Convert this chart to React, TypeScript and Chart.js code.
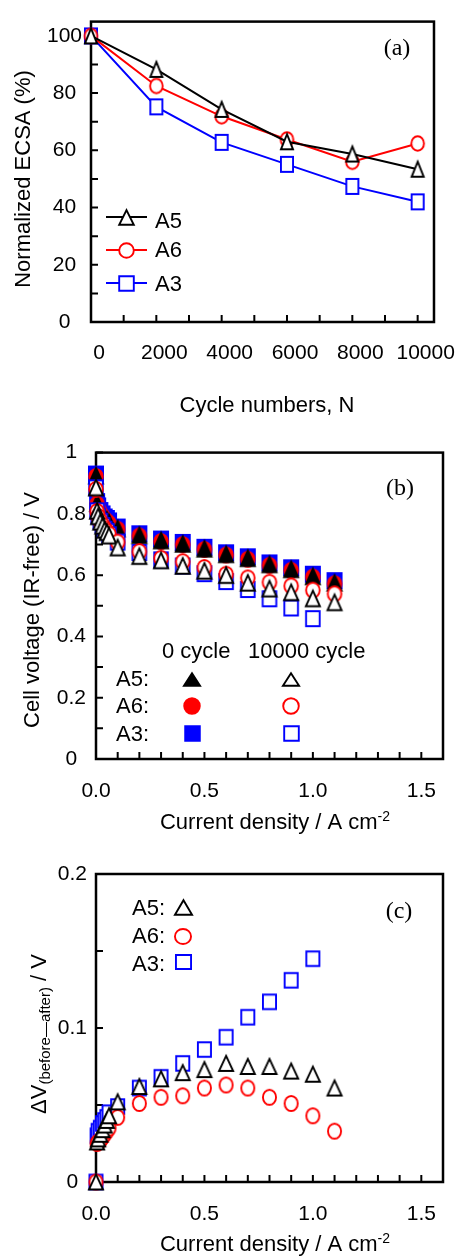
import React, { useEffect, useRef } from 'react';
import { Chart, registerables } from 'chart.js';

Chart.register(...registerables);

const SANS = "'Liberation Sans', Arial, Helvetica, sans-serif";
const SERIF = "'Liberation Serif', 'Times New Roman', serif";

// ---------------- Panel (a): normalized ECSA vs cycle number ----------------
const cycleNumbers = [0, 2000, 4000, 6000, 8000, 10000];
const ecsaA5 = [100, 88.3, 74.3, 63.0, 58.7, 53.4];
const ecsaA6 = [100, 82.5, 71.9, 63.8, 56.0, 62.4];
const ecsaA3 = [100, 75.2, 62.8, 55.1, 47.4, 42.0];
const cycleTickValues = [0, 2000, 4000, 6000, 8000, 10000];
const cycleTickLabels = ['0', '2000', '4000', '6000', '8000', '10000'];
const ecsaTickValues = [0, 20, 40, 60, 80, 100];
const ecsaTickLabels = ['0', '20', '40', '60', '80', '100'];

// ---------------- Panel (b): IR-free cell voltage vs current density ----------------
const currentDensity = [0, 0.005, 0.01, 0.02, 0.03, 0.04, 0.05, 0.06, 0.1, 0.2, 0.3, 0.4, 0.5, 0.6, 0.7, 0.8, 0.9, 1.0, 1.1];
const voltA5Cycle0 = [0.925, 0.835, 0.82, 0.805, 0.795, 0.785, 0.78, 0.772, 0.752, 0.73, 0.713, 0.702, 0.686, 0.668, 0.655, 0.635, 0.619, 0.596, 0.575];
const voltA6Cycle0 = [0.922, 0.832, 0.818, 0.803, 0.792, 0.782, 0.776, 0.769, 0.75, 0.728, 0.71, 0.7, 0.684, 0.666, 0.652, 0.632, 0.616, 0.594, 0.572];
const voltA3Cycle0 = [0.93, 0.84, 0.826, 0.811, 0.8, 0.79, 0.785, 0.777, 0.757, 0.735, 0.718, 0.707, 0.691, 0.673, 0.66, 0.64, 0.624, 0.603, 0.582];
const voltA5Cycle10k = [0.886, 0.81, 0.792, 0.774, 0.761, 0.748, 0.74, 0.729, 0.69, 0.662, 0.648, 0.63, 0.614, 0.6, 0.575, 0.556, 0.544, 0.524, 0.511];
const voltA6Cycle10k = [0.88, 0.808, 0.792, 0.776, 0.763, 0.751, 0.743, 0.734, 0.708, 0.677, 0.655, 0.644, 0.625, 0.603, 0.591, 0.577, 0.565, 0.551, 0.539];
const voltA3Cycle10k = [0.885, 0.81, 0.793, 0.776, 0.762, 0.75, 0.743, 0.732, 0.708, 0.674, 0.65, 0.63, 0.605, 0.579, 0.553, 0.523, 0.493, 0.458];
const currentTickValues = [0, 0.5, 1.0, 1.5];
const currentTickLabels = ['0.0', '0.5', '1.0', '1.5'];
const voltTickValues = [0, 0.2, 0.4, 0.6, 0.8, 1.0];
const voltTickLabels = ['0', '0.2', '0.4', '0.6', '0.8', '1'];

// ---------------- Panel (c): voltage loss vs current density ----------------
const deltaA5 = [0, 0.026, 0.028, 0.031, 0.034, 0.037, 0.04, 0.043, 0.052, 0.062, 0.067, 0.071, 0.073, 0.077, 0.075, 0.075, 0.072, 0.07, 0.061];
const deltaA6 = [0, 0.025, 0.026, 0.027, 0.029, 0.031, 0.033, 0.035, 0.042, 0.051, 0.055, 0.056, 0.061, 0.063, 0.061, 0.055, 0.051, 0.043, 0.033];
const deltaA3 = [0, 0.03, 0.033, 0.035, 0.038, 0.04, 0.042, 0.045, 0.049, 0.061, 0.068, 0.077, 0.086, 0.094, 0.107, 0.117, 0.131, 0.145];
const deltaTickValues = [0, 0.1, 0.2];
const deltaTickLabels = ['0', '0.1', '0.2'];

const BLACK = '#000000';
const RED = '#ff0000';
const BLUE = '#0000ff';
const W = 467;

type Shape = 'triangle' | 'circle' | 'square';

function makeMarker(shape: Shape, w: number, h: number, color: string, filled: boolean, lw = 1.9): HTMLCanvasElement {
  const pad = Math.ceil(lw) + 2;
  const cw = Math.ceil(w + 2 * pad);
  const ch = Math.ceil(h + 2 * pad);
  const c = document.createElement('canvas');
  c.width = cw;
  c.height = ch;
  const ctx = c.getContext('2d') as CanvasRenderingContext2D;
  const cx = cw / 2;
  const cy = ch / 2;
  const iw = w - lw;
  const ih = h - lw;
  ctx.beginPath();
  if (shape === 'triangle') {
    ctx.moveTo(cx, cy - ih / 2);
    ctx.lineTo(cx + iw / 2, cy + ih / 2);
    ctx.lineTo(cx - iw / 2, cy + ih / 2);
    ctx.closePath();
  } else if (shape === 'circle') {
    ctx.ellipse(cx, cy, iw / 2, ih / 2, 0, 0, Math.PI * 2);
  } else {
    ctx.rect(cx - iw / 2, cy - ih / 2, iw, ih);
  }
  ctx.fillStyle = filled ? color : '#ffffff';
  ctx.fill();
  ctx.lineWidth = lw;
  ctx.strokeStyle = color;
  ctx.lineJoin = 'miter';
  ctx.stroke();
  return c;
}

function tickCallback(values: number[], labels: string[]) {
  return (v: any) => {
    const n = Number(v);
    const i = values.findIndex((t) => Math.abs(t - n) < 1e-6);
    return i >= 0 ? labels[i] : '';
  };
}

// positions of the (minor + major) tick marks of an axis
function tickPositions(step: number, last: number) {
  const out: number[] = [];
  const n = Math.round(last / step);
  for (let i = 0; i <= n; i++) out.push(+(i * step).toFixed(6));
  return out;
}

function xy(xs: number[], ys: number[]) {
  return ys.map((y, i) => ({ x: xs[i], y }));
}

interface Area { l: number; r: number; t: number; b: number; }

const frameTicksPlugin = {
  id: 'frameTicks',
  beforeDatasetsDraw(chart: any) {
    const { ctx, chartArea: a } = chart;
    const xs = chart.scales.x;
    const ys = chart.scales.y;
    ctx.save();
    ctx.strokeStyle = BLACK;
    ctx.lineWidth = 2;
    ctx.beginPath();
    xs.ticks.forEach((t: any) => {
      const px = xs.getPixelForValue(t.value);
      ctx.moveTo(px, a.bottom);
      ctx.lineTo(px, a.bottom - 7);
    });
    ys.ticks.forEach((t: any) => {
      const py = ys.getPixelForValue(t.value);
      ctx.moveTo(a.left, py);
      ctx.lineTo(a.left + 7, py);
    });
    ctx.stroke();
    ctx.lineWidth = 2.5;
    ctx.strokeRect(a.left, a.top, a.right - a.left, a.bottom - a.top);
    ctx.restore();
  },
};

function makeOptions(h: number, area: Area, x: any, y: any) {
  return {
    animation: false,
    responsive: false,
    devicePixelRatio: 1,
    events: [],
    clip: false,
    layout: { padding: { top: area.t, right: W - area.r, left: 0, bottom: 0 } },
    plugins: { legend: { display: false }, tooltip: { enabled: false } },
    scales: {
      x: {
        type: 'linear',
        min: x.min,
        max: x.max,
        afterBuildTicks: (s: any) => { s.ticks = x.marks.map((v: number) => ({ value: v })); },
        afterFit: (s: any) => { s.height = h - area.b; },
        grid: { display: false, drawTicks: false },
        border: { display: false },
        title: { display: false },
        ticks: {
          autoSkip: false,
          maxRotation: 0,
          minRotation: 0,
          padding: x.padding,
          labelOffset: x.labelOffset || 0,
          color: BLACK,
          font: { family: SANS, size: 21 },
          callback: tickCallback(x.values, x.labels),
        },
      },
      y: {
        type: 'linear',
        min: y.min,
        max: y.max,
        afterBuildTicks: (s: any) => { s.ticks = y.marks.map((v: number) => ({ value: v })); },
        afterFit: (s: any) => { s.width = area.l; },
        grid: { display: false, drawTicks: false },
        border: { display: false },
        title: { display: false },
        ticks: {
          autoSkip: false,
          crossAlign: 'center',
          padding: y.padding,
          color: BLACK,
          font: { family: SANS, size: 21 },
          callback: tickCallback(y.values, y.labels),
        },
      },
    },
  };
}

type Part = { t: string; s: number; dy: number };

function drawRich(ctx: CanvasRenderingContext2D, parts: Part[], cx: number, baseY: number, rotate: boolean) {
  ctx.save();
  let total = 0;
  const widths = parts.map((p) => {
    ctx.font = `${p.s}px ${SANS}`;
    const w = ctx.measureText(p.t).width;
    total += w;
    return w;
  });
  if (rotate) {
    ctx.translate(baseY, cx);
    ctx.rotate(-Math.PI / 2);
  } else {
    ctx.translate(cx, baseY);
  }
  ctx.textAlign = 'left';
  ctx.textBaseline = 'alphabetic';
  ctx.fillStyle = BLACK;
  let x = -total / 2;
  parts.forEach((p, i) => {
    ctx.font = `${p.s}px ${SANS}`;
    ctx.fillText(p.t, x, p.dy);
    x += widths[i];
  });
  ctx.restore();
}

function drawImg(ctx: CanvasRenderingContext2D, img: HTMLCanvasElement, x: number, y: number) {
  ctx.drawImage(img, Math.round(x - img.width / 2), Math.round(y - img.height / 2));
}

export default function App() {
  const refA = useRef<HTMLCanvasElement>(null);
  const refB = useRef<HTMLCanvasElement>(null);
  const refC = useRef<HTMLCanvasElement>(null);

  useEffect(() => {
    Chart.defaults.font.family = SANS;
    const charts: Chart[] = [];

    // ---------- (a) ----------
    const areaA = { l: 91, r: 443, t: 13, b: 322 };
    const hA = 430;
    const mA = {
      A5: makeMarker('triangle', 14, 17, BLACK, false),
      A6: makeMarker('circle', 14.5, 16.5, RED, false),
      A3: makeMarker('square', 14, 17, BLUE, false),
    };
    const legA = {
      A5: makeMarker('triangle', 16.5, 16.5, BLACK, false),
      A6: makeMarker('circle', 16.5, 16.5, RED, false),
      A3: makeMarker('square', 16.5, 16.5, BLUE, false),
    };
    const textA = {
      id: 'textA',
      afterDraw(chart: any) {
        const ctx = chart.ctx as CanvasRenderingContext2D;
        ctx.save();
        drawRich(ctx, [{ t: 'Cycle numbers, N', s: 22, dy: 0 }], 267, 412, false);
        drawRich(ctx, [{ t: 'Normalized ECSA (%)', s: 22, dy: 0 }], 179, 30, true);
        ctx.font = `24px ${SERIF}`;
        ctx.fillStyle = BLACK;
        ctx.textAlign = 'center';
        ctx.fillText('(a)', 397, 55);
        const rows: [string, string, HTMLCanvasElement, number, number][] = [
          ['A5', BLACK, legA.A5, 217, 228],
          ['A6', RED, legA.A6, 250, 257],
          ['A3', BLUE, legA.A3, 283, 291],
        ];
        rows.forEach(([name, color, img, y, base]) => {
          ctx.strokeStyle = color;
          ctx.lineWidth = 2;
          ctx.beginPath();
          ctx.moveTo(106, y);
          ctx.lineTo(147, y);
          ctx.stroke();
          drawImg(ctx, img, 126.5, y);
          ctx.font = `22px ${SANS}`;
          ctx.fillStyle = BLACK;
          ctx.textAlign = 'left';
          ctx.fillText(name, 155, base);
        });
        ctx.restore();
      },
    };
    const lineDs = (label: string, data: number[], color: string, img: HTMLCanvasElement) => ({
      label,
      data: xy(cycleNumbers, data),
      borderColor: color,
      backgroundColor: color,
      borderWidth: 2,
      pointStyle: img,
      pointRadius: 8,
      pointHoverRadius: 8,
      tension: 0,
      fill: false,
      clip: false,
    });
    charts.push(new Chart(refA.current as HTMLCanvasElement, {
      type: 'line',
      data: {
        datasets: [
          lineDs('A5', ecsaA5, BLACK, mA.A5),
          lineDs('A6', ecsaA6, RED, mA.A6),
          lineDs('A3', ecsaA3, BLUE, mA.A3),
        ],
      },
      options: makeOptions(hA, areaA,
        { min: 0, max: 10500, marks: tickPositions(1000, 10000), padding: 19, labelOffset: 8, values: cycleTickValues, labels: cycleTickLabels },
        { min: 0, max: 105, marks: tickPositions(10, 100), padding: 9, values: ecsaTickValues, labels: ecsaTickLabels }) as any,
      plugins: [frameTicksPlugin, textA],
    }));

    // ---------- (b) ----------
    const areaB = { l: 96, r: 443, t: 22, b: 329 };
    const hB = 410;
    const mB = {
      A5f: makeMarker('triangle', 16, 17.5, BLACK, true),
      A6f: makeMarker('circle', 15.5, 17, RED, true),
      A3f: makeMarker('square', 16, 17, BLUE, true),
      A5o: makeMarker('triangle', 16, 17.5, BLACK, false),
      A6o: makeMarker('circle', 15.5, 17, RED, false),
      A3o: makeMarker('square', 15.5, 17, BLUE, false),
    };
    const legB = {
      A5f: makeMarker('triangle', 18, 14.5, BLACK, true),
      A6f: makeMarker('circle', 17.5, 17.5, RED, true),
      A3f: makeMarker('square', 16.5, 16.5, BLUE, true),
      A5o: makeMarker('triangle', 18, 14.5, BLACK, false),
      A6o: makeMarker('circle', 17.5, 17.5, RED, false),
      A3o: makeMarker('square', 16.5, 16.5, BLUE, false),
    };
    const textB = {
      id: 'textB',
      afterDraw(chart: any) {
        const ctx = chart.ctx as CanvasRenderingContext2D;
        ctx.save();
        drawRich(ctx, [{ t: 'Current density / A cm', s: 22, dy: 0 }, { t: '-2', s: 14, dy: -8 }], 275, 399, false);
        drawRich(ctx, [{ t: 'Cell voltage (IR-free) / V', s: 22, dy: 0 }], 180, 38.5, true);
        ctx.font = `24px ${SERIF}`;
        ctx.fillStyle = BLACK;
        ctx.textAlign = 'center';
        ctx.fillText('(b)', 400, 65);
        ctx.font = `22px ${SANS}`;
        ctx.textAlign = 'left';
        ctx.fillText('0 cycle', 162, 228);
        ctx.fillText('10000 cycle', 248, 228);
        const rows: [string, HTMLCanvasElement, HTMLCanvasElement, number, number][] = [
          ['A5:', legB.A5f, legB.A5o, 249, 256],
          ['A6:', legB.A6f, legB.A6o, 276, 283],
          ['A3:', legB.A3f, legB.A3o, 303, 311],
        ];
        rows.forEach(([name, f, o, y, base]) => {
          ctx.fillText(name, 116, base);
          drawImg(ctx, f, 192, y);
          drawImg(ctx, o, 291, y);
        });
        ctx.restore();
      },
    };
    const scatDs = (label: string, xs: number[], ys: number[], img: HTMLCanvasElement, color: string) => ({
      label,
      data: xy(xs, ys),
      borderColor: color,
      backgroundColor: color,
      pointStyle: img,
      pointRadius: 8,
      pointHoverRadius: 8,
      showLine: false,
      clip: false,
    });
    charts.push(new Chart(refB.current as HTMLCanvasElement, {
      type: 'scatter',
      data: {
        datasets: [
          scatDs('A5 10000 cycle', currentDensity, voltA5Cycle10k, mB.A5o, BLACK),
          scatDs('A6 10000 cycle', currentDensity, voltA6Cycle10k, mB.A6o, RED),
          scatDs('A3 10000 cycle', currentDensity, voltA3Cycle10k, mB.A3o, BLUE),
          scatDs('A5 0 cycle', currentDensity, voltA5Cycle0, mB.A5f, BLACK),
          scatDs('A6 0 cycle', currentDensity, voltA6Cycle0, mB.A6f, RED),
          scatDs('A3 0 cycle', currentDensity, voltA3Cycle0, mB.A3f, BLUE),
        ],
      },
      options: makeOptions(hB, areaB,
        { min: 0, max: 1.6, marks: tickPositions(0.1, 1.5), padding: 20, values: currentTickValues, labels: currentTickLabels },
        { min: 0, max: 1, marks: tickPositions(0.1, 1.0), padding: 10, values: voltTickValues, labels: voltTickLabels }) as any,
      plugins: [frameTicksPlugin, textB],
    }));

    // ---------- (c) ----------
    const areaC = { l: 96, r: 443, t: 34, b: 342 };
    const hC = 418;
    const mC = {
      A5: makeMarker('triangle', 16, 17, BLACK, false),
      A6: makeMarker('circle', 15, 17, RED, false),
      A3: makeMarker('square', 15, 16.5, BLUE, false),
    };
    const legC = {
      A5: makeMarker('triangle', 19, 16.5, BLACK, false),
      A6: makeMarker('circle', 18, 17, RED, false),
      A3: makeMarker('square', 17, 16, BLUE, false),
    };
    const textC = {
      id: 'textC',
      afterDraw(chart: any) {
        const ctx = chart.ctx as CanvasRenderingContext2D;
        ctx.save();
        drawRich(ctx, [{ t: 'Current density / A cm', s: 22, dy: 0 }, { t: '-2', s: 14, dy: -8 }], 275, 411, false);
        drawRich(ctx, [
          { t: '\u0394V', s: 22, dy: 0 },
          { t: '(before\u2014after)', s: 15, dy: 4 },
          { t: ' / V', s: 22, dy: 0 },
        ], 194, 46, true);
        ctx.font = `24px ${SERIF}`;
        ctx.fillStyle = BLACK;
        ctx.textAlign = 'center';
        ctx.fillText('(c)', 399, 78);
        ctx.font = `22px ${SANS}`;
        ctx.textAlign = 'left';
        const rows: [string, HTMLCanvasElement, number, number][] = [
          ['A5:', legC.A5, 67, 75],
          ['A6:', legC.A6, 96, 103],
          ['A3:', legC.A3, 122, 131],
        ];
        rows.forEach(([name, img, y, base]) => {
          ctx.fillText(name, 132, base);
          drawImg(ctx, img, 183, y);
        });
        ctx.restore();
      },
    };
    charts.push(new Chart(refC.current as HTMLCanvasElement, {
      type: 'scatter',
      data: {
        datasets: [
          scatDs('A5', currentDensity, deltaA5, mC.A5, BLACK),
          scatDs('A6', currentDensity, deltaA6, mC.A6, RED),
          scatDs('A3', currentDensity, deltaA3, mC.A3, BLUE),
        ],
      },
      options: makeOptions(hC, areaC,
        { min: 0, max: 1.6, marks: tickPositions(0.1, 1.5), padding: 20, values: currentTickValues, labels: currentTickLabels },
        { min: 0, max: 0.2, marks: tickPositions(0.05, 0.2), padding: 9, values: deltaTickValues, labels: deltaTickLabels }) as any,
      plugins: [frameTicksPlugin, textC],
    }));

    return () => {
      charts.forEach((c) => c.destroy());
    };
  }, []);

  return (
    <div style={{ position: 'absolute', left: 0, top: 0, width: W, height: 1258, background: '#ffffff', overflow: 'hidden' }}>
      <canvas ref={refA} width={W} height={430} style={{ position: 'absolute', left: 0, top: 0 }} />
      <canvas ref={refB} width={W} height={410} style={{ position: 'absolute', left: 0, top: 430 }} />
      <canvas ref={refC} width={W} height={418} style={{ position: 'absolute', left: 0, top: 840 }} />
    </div>
  );
}
